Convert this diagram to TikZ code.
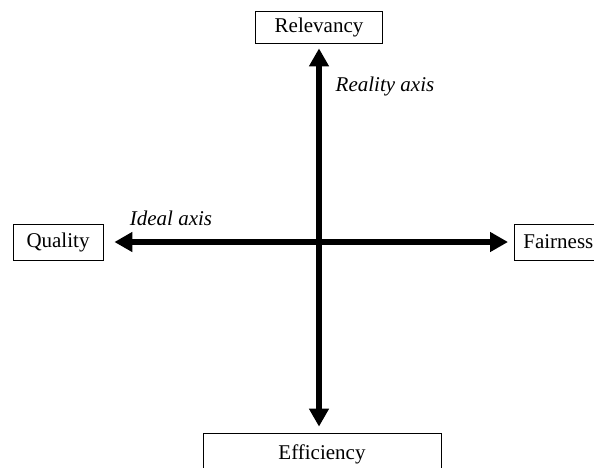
\documentclass[tikz,border=0pt]{standalone}
\usepackage{fontspec}
\setmainfont{Liberation Serif}
\usetikzlibrary{arrows.meta}
\begin{document}
\begin{tikzpicture}[x=1pt, y=-1pt,
    labelbox/.style={draw, line width=0.8pt, inner sep=0pt, font=\fontsize{21}{25}\selectfont},
    axis/.style={line width=6pt, {Triangle[width=19pt,length=18pt]}-{Triangle[width=19pt,length=18pt]}},
    axislabel/.style={font=\fontsize{21}{25}\selectfont\itshape}]
    \useasboundingbox (0,0) rectangle (594,467);
    \clip (0,0) rectangle (594,467);

    % End boxes
    \node[labelbox, minimum width=127pt, minimum height=32pt] (relevancy) at (319,27) {Relevancy};
    \node[labelbox, minimum width=238pt, minimum height=42pt] (efficiency) at (322,454) {Efficiency};
    \node[labelbox, minimum width=90pt, minimum height=36pt] (quality) at (58,242) {Quality};
    \node[labelbox, minimum width=88pt, minimum height=36pt, anchor=west] (fairness) at (514,242) {Fairness};

    % Axes
    \draw[axis, shorten <=5pt, shorten >=6pt] (relevancy.south) -- (relevancy.south |- efficiency.north);
    \draw[axis, shorten <=11pt, shorten >=6pt] (quality.east) -- (fairness.west);

    % Axis names
    \node[axislabel] (ideal) at (171,218) {Ideal axis};
    \node[axislabel] (reality) at (385,86) {Reality axis};
\end{tikzpicture}
\end{document}
